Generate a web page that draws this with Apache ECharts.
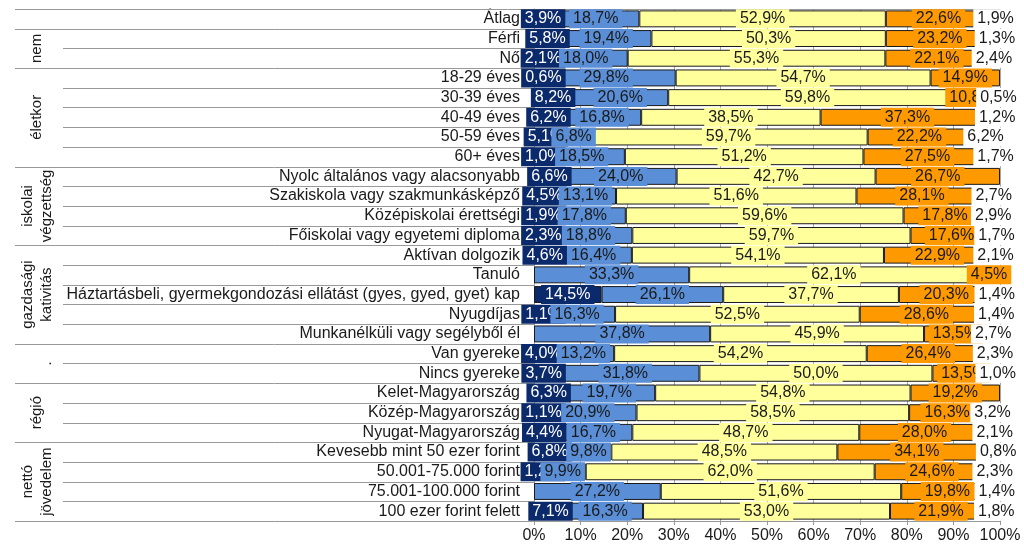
<!DOCTYPE html>
<html>
<head>
<meta charset="utf-8">
<script src="https://cdn.jsdelivr.net/npm/echarts@6/dist/echarts.min.js"></script>
<style>
html,body{margin:0;padding:0;background:#fff;}
#chart{width:1024px;height:555px;}
</style>
</head>
<body>
<div id="chart"></div>
<script>
var categories = ['Átlag','Férfi','Nő','18-29 éves','30-39 éves','40-49 éves','50-59 éves','60+ éves',
  'Nyolc általános vagy alacsonyabb','Szakiskola vagy szakmunkásképző','Középiskolai érettségi','Főiskolai vagy egyetemi diploma',
  'Aktívan dolgozik','Tanuló','Háztartásbeli, gyermekgondozási ellátást (gyes, gyed, gyet) kap','Nyugdíjas','Munkanélküli vagy segélyből él',
  'Van gyereke','Nincs gyereke','Kelet-Magyarország','Közép-Magyarország','Nyugat-Magyarország',
  'Kevesebb mint 50 ezer forint','50.001-75.000 forint','75.001-100.000 forint','100 ezer forint felett'];

var s1 = [3.9,5.8,2.1,0.6,8.2,6.2,5.1,1.0,6.6,4.5,1.9,2.3,4.6,null,14.5,1.1,null,4.0,3.7,6.3,1.1,4.4,6.8,1.2,null,7.1];
var s2 = [18.7,19.4,18.0,29.8,20.6,16.8,6.8,18.5,24.0,13.1,17.8,18.8,16.4,33.3,26.1,16.3,37.8,13.2,31.8,19.7,20.9,16.7,9.8,9.9,27.2,16.3];
var s3 = [52.9,50.3,55.3,54.7,59.8,38.5,59.7,51.2,42.7,51.6,59.6,59.7,54.1,62.1,37.7,52.5,45.9,54.2,50.0,54.8,58.5,48.7,48.5,62.0,51.6,53.0];
var s4 = [22.6,23.2,22.1,14.9,10.8,37.3,22.2,27.5,26.7,28.1,17.8,17.6,22.9,4.5,20.3,28.6,13.5,26.4,13.5,19.2,16.3,28.0,34.1,24.6,19.8,21.9];
var s5 = [1.9,1.3,2.4,null,0.5,1.2,6.2,1.7,null,2.7,2.9,1.7,2.1,null,1.4,1.4,2.7,2.3,1.0,null,3.2,2.1,0.8,2.3,1.4,1.8];

var groupNames = ['', 'nem', 'életkor', 'iskolai\nvégzettség', 'gazdasági\nkativitás', '.', 'régió', 'nettó\njövedelem'];
var groupSizes = [1, 2, 5, 4, 5, 2, 3, 4];

var xTicks = [0,10,20,30,40,50,60,70,80,90,100];

var colors = ['#0b2a6b', '#5a8ed6', '#ffff9c', '#ff9900', '#ffffff'];
var labelColors = ['#ffffff', '#1a1a1a', '#1a1a1a', '#1a1a1a', '#1a1a1a'];
var FONT = "'Liberation Sans', Arial, sans-serif";
var LABEL_SIZE = 16;
var PAD = [2, 4, 1, 4];

function fmtVal(v) {
  if (v === null || v === undefined || v === '-') return '';
  return v.toFixed(1).replace('.', ',') + '%';
}
function fmt(p) { return fmtVal(p.value); }

var chart = echarts.init(document.getElementById('chart'), null, { renderer: 'canvas' });
var plotLeft = 534;

function buildSeries(offsets) {
  return [s1, s2, s3, s4, s5].map(function (d, i) {
    var data = d.map(function (v, k) {
      if (i === 0 && offsets && offsets[k]) {
        return { value: v, label: { offset: [offsets[k], 0] } };
      }
      return v;
    });
    return {
      type: 'bar',
      stack: 'total',
      data: data,
      barCategoryGap: '14%',
      itemStyle: { color: colors[i], borderColor: '#1a1a1a', borderWidth: 1 },
      label: {
        show: true,
        position: 'inside',
        formatter: fmt,
        fontFamily: FONT,
        fontSize: LABEL_SIZE,
        color: labelColors[i],
        backgroundColor: colors[i],
        padding: PAD
      },
      emphasis: { disabled: true }
    };
  });
}

chart.setOption({
  animation: false,
  grid: { left: plotLeft, right: 24, top: 9, bottom: 34, containLabel: false },
  xAxis: {
    type: 'value', min: 0, max: 100, interval: 10,
    axisLine: { show: true, lineStyle: { color: '#999999' } },
    axisTick: { show: true, length: 4, lineStyle: { color: '#999999' } },
    splitLine: { show: true, lineStyle: { color: '#a6a6a6' } },
    axisLabel: { formatter: function (v) { return xTicks.indexOf(v) >= 0 ? v + '%' : ''; }, fontFamily: FONT, fontSize: 16, color: '#1a1a1a', margin: 7 }
  },
  yAxis: {
    type: 'category', data: categories, inverse: true,
    axisLine: { show: true, lineStyle: { color: '#999999' } },
    axisTick: { show: false },
    axisLabel: { interval: 0, fontFamily: FONT, fontSize: 16, color: '#1a1a1a', margin: 14 }
  },
  series: buildSeries(null)
});

// keep small first-series labels inside the plot edge (as in the original)
var measureCtx = document.createElement('canvas').getContext('2d');
measureCtx.font = LABEL_SIZE + 'px ' + FONT;
var offsets = s1.map(function (v) {
  if (v === null) return 0;
  var cx = chart.convertToPixel({ xAxisIndex: 0 }, v / 2);
  var w = measureCtx.measureText(fmtVal(v)).width + PAD[1] + PAD[3];
  var left = cx - w / 2;
  var minLeft = plotLeft - 13;
  return left < minLeft ? Math.round(minLeft - left) : 0;
});
chart.setOption({ series: buildSeries(offsets) });

// decorations derived from axis scale
var c0 = chart.convertToPixel({ yAxisIndex: 0 }, 0);
var c1 = chart.convertToPixel({ yAxisIndex: 0 }, 1);
var band = c1 - c0;
var x0 = chart.convertToPixel({ xAxisIndex: 0 }, 0);
var x100 = chart.convertToPixel({ xAxisIndex: 0 }, 100);
var graphics = [];
function hline(y, xs, xe) {
  graphics.push({ type: 'line', shape: { x1: xs, y1: y, x2: xe, y2: y }, style: { stroke: '#999999', lineWidth: 1 }, silent: true, z: 1 });
}
var groupStarts = [];
var acc = 0;
groupSizes.forEach(function (n) { groupStarts.push(acc); acc += n; });
var boundarySet = {};
groupStarts.forEach(function (s) { boundarySet[s] = true; });
hline(Math.round(c0 - band / 2) + 0.5, 15, x100);
for (var i = 1; i < categories.length; i++) {
  var y = Math.round(chart.convertToPixel({ yAxisIndex: 0 }, i) - band / 2) + 0.5;
  hline(y, boundarySet[i] ? 15 : 63, x0);
}
var yb = Math.round(chart.convertToPixel({ yAxisIndex: 0 }, categories.length - 1) + band / 2) + 0.5;
hline(yb, 15, x0);

groupNames.forEach(function (name, gi) {
  if (!name) return;
  var s = groupStarts[gi], n = groupSizes[gi];
  var yc = (chart.convertToPixel({ yAxisIndex: 0 }, s) + chart.convertToPixel({ yAxisIndex: 0 }, s + n - 1)) / 2;
  var isDot = name === '.';
  graphics.push({
    type: 'text', x: isDot ? 47 : 37, y: yc, rotation: Math.PI / 2, silent: true,
    style: { text: name, font: '15px ' + FONT, fill: '#1a1a1a', align: 'center', verticalAlign: 'middle', lineHeight: 19 }
  });
});
chart.setOption({ graphic: graphics });
</script>
</body>
</html>
